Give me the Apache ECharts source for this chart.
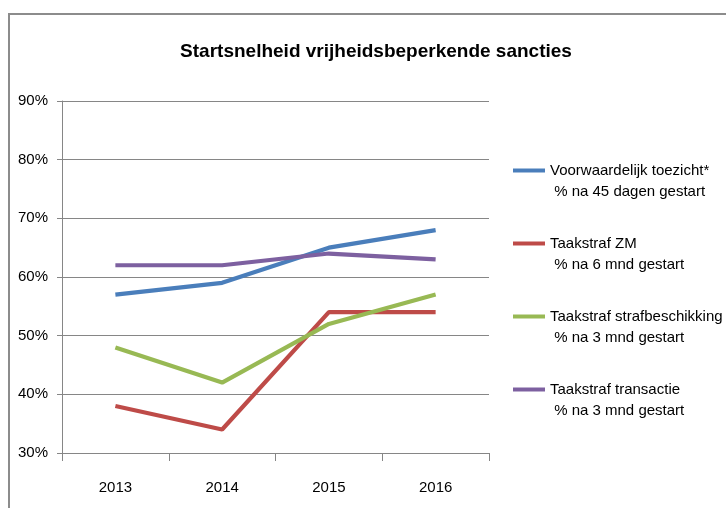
<!DOCTYPE html>
<html>
<head>
<meta charset="utf-8">
<script src="https://cdn.jsdelivr.net/npm/echarts@6/dist/echarts.min.js"></script>
<style>
	html, body { margin: 0; padding: 0; background: #fff; }
	#chart { width: 726px; height: 508px; }
</style>
</head>
<body>
<div id="chart"></div>
<script>
	let years = ['2013', '2014', '2015', '2016'];
	let names = [
		'Voorwaardelijk toezicht*\n % na 45 dagen gestart',
		'Taakstraf ZM\n % na 6 mnd gestart',
		'Taakstraf strafbeschikking\n % na 3 mnd gestart',
		'Taakstraf transactie\n % na 3 mnd gestart'
	];
	let toezicht = [57, 59, 65, 68];
	let taakZM = [38, 34, 54, 54];
	let strafbeschikking = [48, 42, 52, 57];
	let transactie = [62, 62, 64, 63];
	let colors = ['#4a7ebb', '#be4b48', '#98b954', '#7d60a0'];

	let font = "'Liberation Sans', Arial, sans-serif";
	let chart = echarts.init(document.getElementById('chart'));

	function line(name, data, color) {
		return {
			name: name,
			type: 'line',
			data: data,
			showSymbol: false,
			symbol: 'none',
			lineStyle: { width: 4.2, color: color },
			itemStyle: { color: color }
		};
	}

	let option = {
		animation: false,
		textStyle: { fontFamily: font },
		graphic: [{
			type: 'rect',
			shape: { x: 9, y: 14, width: 760, height: 540 },
			style: { fill: 'none', stroke: '#8c8c8c', lineWidth: 2 }
		}],
		title: {
			text: 'Startsnelheid vrijheidsbeperkende sancties',
			left: 371,
			top: 37,
			textAlign: 'center',
			textStyle: { fontFamily: font, fontSize: 19, fontWeight: 'bold', color: '#000' }
		},
		legend: {
			orient: 'vertical',
			left: 513,
			top: 139,
			padding: 0,
			itemGap: 10,
			icon: 'rect',
			itemWidth: 32,
			itemHeight: 4,
			data: names,
			// blank first line keeps the icon level with the first text line
			formatter: function(n) {
				return ' \n' + n;
			},
			textStyle: {
				fontFamily: font,
				fontSize: 15,
				lineHeight: 21,
				color: '#000'
			}
		},
		grid: { left: 62, right: 237, top: 101, bottom: 55 },
		xAxis: {
			type: 'category',
			data: years,
			boundaryGap: true,
			axisLine: { lineStyle: { color: '#868686', width: 1 } },
			axisTick: { show: true, length: 8, alignWithLabel: false, lineStyle: { color: '#868686' } },
			axisLabel: { fontSize: 15, color: '#000', margin: 27, fontFamily: font },
			splitLine: { show: false }
		},
		yAxis: {
			type: 'value',
			min: 30,
			max: 90,
			interval: 10,
			axisLine: { show: true, lineStyle: { color: '#868686', width: 1 } },
			axisTick: { show: true, length: 5, lineStyle: { color: '#868686' } },
			axisLabel: { fontSize: 15, color: '#000', margin: 14, formatter: '{value}%', fontFamily: font },
			splitLine: { lineStyle: { color: '#868686', width: 1 } }
		},
		series: [
			line(names[0], toezicht, colors[0]),
			line(names[1], taakZM, colors[1]),
			line(names[2], strafbeschikking, colors[2]),
			line(names[3], transactie, colors[3])
		]
	};
	chart.setOption(option);
</script>
</body>
</html>
